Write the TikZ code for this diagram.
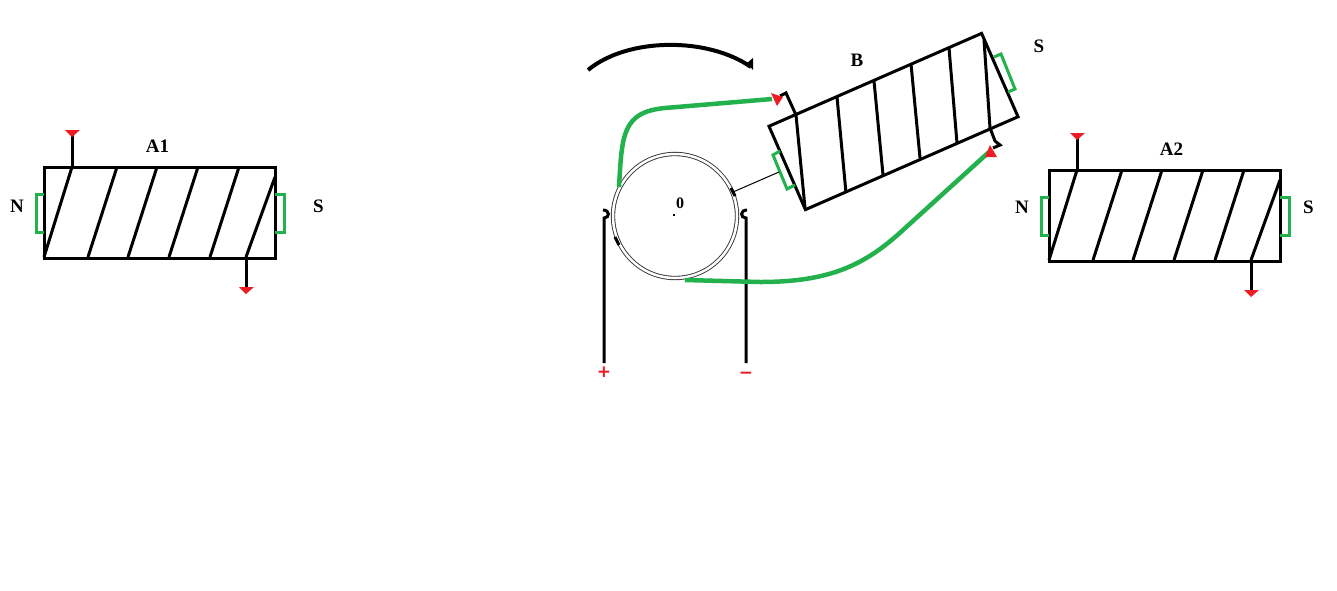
\documentclass[tikz,border=0pt]{standalone}
\usepackage{fontspec}
\setmainfont{Liberation Serif}
\newfontfamily\signfont{DejaVu Sans}
\usetikzlibrary{positioning,shapes.geometric}
\definecolor{wiregreen}{HTML}{22B14C}
\definecolor{tipred}{HTML}{ED1C24}
\tikzset{
	wire/.style={line width=3pt, black},
	pole/.style={line width=3pt, wiregreen},
	lead/.style={line width=4.5pt, wiregreen},
	tip/.style={fill=tipred},
	coilbox/.style={draw, line width=3pt, rectangle, outer sep=0pt, minimum width=231pt, minimum height=91pt},
	lbl/.style={font=\fontsize{19}{19}\selectfont\bfseries, inner sep=0pt},
	signlbl/.style={font=\signfont\fontsize{17}{17}\selectfont\bfseries, text=tipred, inner sep=0pt},
	coilturns/.pic={
		\foreach \t/\b in {28/0, 73/44, 113/84, 154/125, 195/166} {
			\draw[wire] (\t,0) -- (\b,90);
		}
		\draw[wire] (231,10) -- (202,90);
		\draw[wire] (28,0) -- (28,-33);
		\draw[wire] (202,90) -- (202,121);
		\fill[tip] (21,-37) -- (36,-37) -- (28,-30) -- cycle;
		\fill[tip] (195,120) -- (210,120) -- (202,127) -- cycle;
		\draw[pole] (0,27) -- (-8,27) -- (-8,65) -- (0,65);
		\draw[pole] (231,27) -- (240,27) -- (240,65) -- (231,65);
	}
}
\begin{document}
\begin{tikzpicture}[x=1pt, y=-1pt]
	\useasboundingbox (0,0) rectangle (1337,590);

	% fixed coils
	\node[coilbox] (a1) at (159.5,212.5) {};
	\pic at (a1.north west) {coilturns};
	\node[lbl, above=14pt of a1, xshift=-2pt] (a1name) {A1};
	\node[lbl, left=20pt of a1.west, yshift=6pt] (a1north) {N};
	\node[lbl, right=38pt of a1.east, yshift=6pt] (a1south) {S};

	\node[coilbox] (a2) at (1164.5,215.5) {};
	\pic at (a2.north west) {coilturns};
	\node[lbl, above=14pt of a2, xshift=7pt] (a2name) {A2};
	\node[lbl, left=20pt of a2.west, yshift=8pt] (a2north) {N};
	\node[lbl, right=23pt of a2.east, yshift=8pt] (a2south) {S};

	% moving coil
	\node[coilbox, rotate=23.6, minimum width=232pt] (b) at (893.5,121.5) {};
	\foreach \tx/\ty/\bx/\by in {796/115/805/208, 837/97/846/193, 874/81/883/175, 911/64/920/158, 949/48/957/143, 984/40/990/128} {
		\draw[wire] (\tx,\ty) -- (\bx,\by);
	}
	\draw[wire] (796,115) -- (786,93) -- (780,96);
	\draw[wire] (990,128) -- (995,141) -- (1000,145) -- (993,148);
	\draw[pole] (780,151) -- (773,155) -- (787,189) -- (795,185);
	\draw[pole] (994,57) -- (1001,54) -- (1015,89) -- (1008,92);
	\node[lbl] (bname) at (857,60) {B};
	\node[lbl] (bsouth) at (1039,46) {S};

	% rotor with its brushes
	\node[circle, draw=black!80, line width=.9pt, double, double distance=2.5pt, minimum size=124pt, inner sep=0pt] (rotor) at (675,216) {};
	\fill (673,214) rectangle (675,216);
	\node[font=\fontsize{16}{16}\selectfont\bfseries, inner sep=0pt] (rotorname) at (680,203) {0};
	\draw[wire] (731,188) -- (735,196);
	\draw[wire] (615,237) -- (619,245);
	\coordinate (armend) at (779,172);
	\draw[line width=1pt] (733,192) -- (armend);

	% supply
	\node[signlbl] (plus) at (604,372) {+};
	\node[signlbl] (minus) at (746,375) {−};
	\coordinate (plustop) at (604,218);
	\coordinate (minustop) at (746,218);
	\coordinate (pluslow) at (604,363);
	\coordinate (minuslow) at (746,363);
	\draw[wire] (pluslow) -- (plustop) .. controls (610,218) and (610,210) .. (603,210);
	\draw[wire] (minuslow) -- (minustop) .. controls (740,218) and (740,210) .. (747,210);

	% leads
	\coordinate (upperstart) at (619,187);
	\coordinate (upperend) at (772,99);
	\coordinate (lowerstart) at (685,280);
	\coordinate (lowerend) at (989,152);
	\draw[lead] (upperstart) .. controls (622,135) and (622,112) .. (665,108) -- (upperend);
	\draw[lead] (lowerstart) -- (760,282) .. controls (830,282) and (865,265) .. (903,230) -- (lowerend);
	\fill[tip] (771,93) -- (783,97) -- (777,106) -- cycle;
	\fill[tip] (985,157) -- (997,157) -- (990,145) -- cycle;

	% sense of rotation
	\coordinate (turnstart) at (588,70);
	\coordinate (turnend) at (751,67);
	\draw[line width=4pt] (turnstart) .. controls (628,37) and (708,37) .. (turnend);
	\fill (747,63) -- (753,58) -- (753,70) -- cycle;
\end{tikzpicture}
\end{document}
